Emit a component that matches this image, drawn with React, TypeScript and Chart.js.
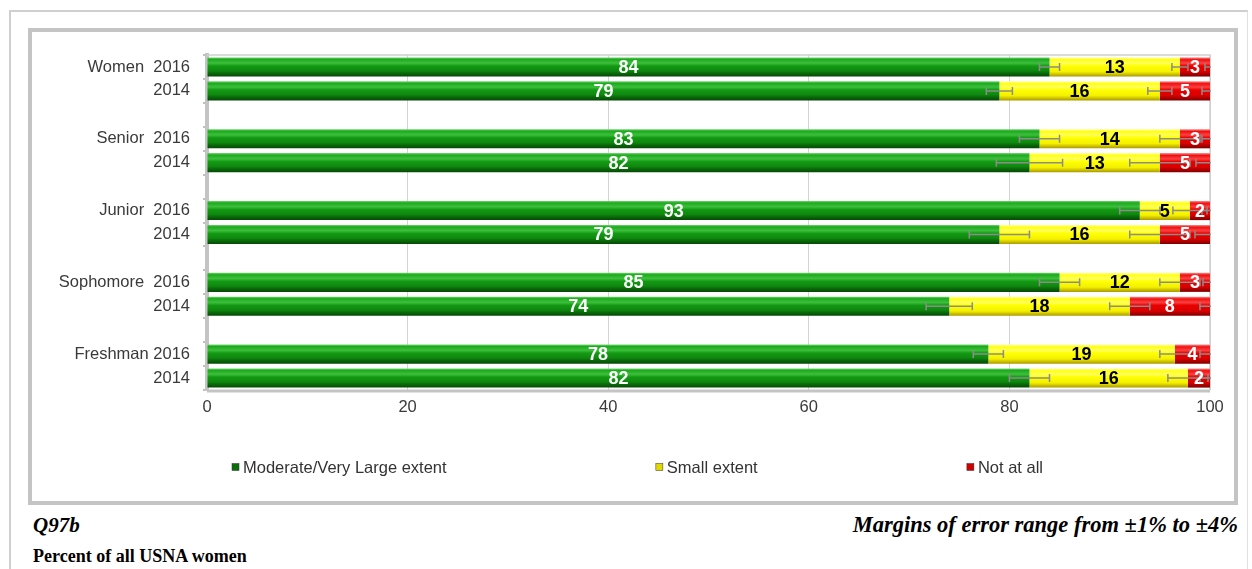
import React, { useEffect, useRef } from "react";
import { Chart, registerables } from "chart.js";

Chart.register(...registerables);

// ---------- data ----------
const categories = [
  "Women  2016", "2014", "",
  "Senior  2016", "2014", "",
  "Junior  2016", "2014", "",
  "Sophomore  2016", "2014", "",
  "Freshman 2016", "2014",
];
const moderate = [84, 79, null, 83, 82, null, 93, 79, null, 85, 74, null, 77.9, 82];
const small = [13, 16, null, 14, 13, null, 5, 16, null, 12, 18, null, 18.6, 15.8];
const notAtAll = [3, 5, null, 3, 5, null, 2, 5, null, 3, 8, null, 3.5, 2.2];

const errModerate = [1, 1.3, null, 2, 3.3, null, 2, 3, null, 2, 2.3, null, 1.5, 2];
const errSmall = [0.8, 1.2, null, 2, 3, null, 1.7, 3, null, 2, 2, null, 1.5, 2];
const errNot = [0.5, 0.8, null, 0.8, 1.4, null, 0.8, 1.5, null, 0.7, 1, null, 1, 1];

const xTicks = [0, 20, 40, 60, 80, 100];
const seriesNames = ["Moderate/Very Large extent", "Small extent", "Not at all"];

const SANS = '"Liberation Sans", Arial, sans-serif';

type Stops = [number, string][];
const greenStops: Stops = [
  [0, "#6fdc6f"], [0.1, "#1fa81f"], [0.3, "#3cc03c"], [0.45, "#149914"],
  [0.7, "#0e880e"], [0.82, "#0a6a0a"], [1, "#064806"],
];
const yellowStops: Stops = [
  [0, "#ffffa8"], [0.12, "#ffff10"], [0.3, "#ffff60"], [0.45, "#ffff00"],
  [0.75, "#f4f000"], [0.85, "#d8cc00"], [1, "#a89a00"],
];
const redStops: Stops = [
  [0, "#ff9090"], [0.12, "#ee1010"], [0.3, "#ff4040"], [0.45, "#e80000"],
  [0.75, "#d80000"], [0.85, "#b00000"], [1, "#800000"],
];

const BAR_FRACTION = 0.8;

function gradientFor(stops: Stops) {
  return (ctx: any) => {
    const chart = ctx.chart;
    const area = chart.chartArea;
    const ys = chart.scales && chart.scales.y;
    if (!area || !ys || ctx.dataIndex === undefined) return stops[3][1];
    const yc = ys.getPixelForValue(ctx.dataIndex);
    const slot = (area.bottom - area.top) / categories.length;
    const h = slot * BAR_FRACTION;
    const g = chart.ctx.createLinearGradient(0, yc - h / 2, 0, yc + h / 2);
    stops.forEach(([o, c]) => g.addColorStop(o, c));
    return g;
  };
}

const plotFramePlugin = {
  id: "plotFrame",
  beforeDatasetsDraw(chart: any) {
    const { ctx, chartArea: a } = chart;
    ctx.save();
    ctx.strokeStyle = "#cfcfcf";
    ctx.lineWidth = 1.5;
    ctx.beginPath();
    ctx.moveTo(a.left, a.top);
    ctx.lineTo(a.right, a.top);
    ctx.lineTo(a.right, a.bottom);
    ctx.stroke();
    ctx.strokeStyle = "#c4c4c4";
    ctx.lineWidth = 3;
    ctx.beginPath();
    ctx.moveTo(a.left, a.bottom + 1);
    ctx.lineTo(a.right, a.bottom + 1);
    ctx.stroke();
    ctx.restore();
  },
};

const errorBarPlugin = {
  id: "errorBars",
  afterDatasetsDraw(chart: any) {
    const { ctx, chartArea: a, scales } = chart;
    const xs = scales.x;
    const errs = [errModerate, errSmall, errNot];
    const vals = [moderate, small, notAtAll];
    ctx.save();
    ctx.beginPath();
    ctx.rect(a.left, a.top, a.right - a.left + 1, a.bottom - a.top);
    ctx.clip();
    ctx.strokeStyle = "#8c8c8c";
    ctx.lineWidth = 1.5;
    for (let i = 0; i < categories.length; i++) {
      let cum = 0;
      for (let s = 0; s < 3; s++) {
        const v = vals[s][i];
        const e = errs[s][i];
        if (v == null || e == null) continue;
        cum += v;
        const end = Math.min(cum, 100);
        const y = scales.y.getPixelForValue(i);
        const x1 = xs.getPixelForValue(end - e);
        const x2 = xs.getPixelForValue(end + e);
        ctx.beginPath();
        ctx.moveTo(x1, y);
        ctx.lineTo(x2, y);
        ctx.moveTo(x1, y - 4);
        ctx.lineTo(x1, y + 4);
        ctx.moveTo(x2, y - 4);
        ctx.lineTo(x2, y + 4);
        ctx.stroke();
      }
    }
    ctx.restore();
  },
};

const valueLabelPlugin = {
  id: "valueLabels",
  afterDatasetsDraw(chart: any) {
    const { ctx } = chart;
    ctx.save();
    ctx.font = `bold 18px ${SANS}`;
    ctx.textAlign = "center";
    ctx.textBaseline = "middle";
    chart.data.datasets.forEach((ds: any, di: number) => {
      const meta = chart.getDatasetMeta(di);
      meta.data.forEach((bar: any, i: number) => {
        const v = ds.data[i];
        if (v == null) return;
        const cx = (bar.x + bar.base) / 2;
        ctx.fillStyle = di === 1 ? "#000000" : "#ffffff";
        ctx.fillText(String(Math.round(v)), cx, bar.y + 1);
      });
    });
    ctx.restore();
  },
};

const legendPlugin = {
  id: "customLegend",
  afterDraw(chart: any) {
    const { ctx } = chart;
    const colors = ["#0a6e0a", "#e0d800", "#d00000"];
    const left = 200;
    const right = 1011;
    const y = 435;
    const sq = 7;
    const gap = 4;
    ctx.save();
    ctx.font = `16.5px ${SANS}`;
    ctx.textBaseline = "middle";
    const widths = seriesNames.map((n) => sq + gap + ctx.measureText(n).width);
    const total = widths.reduce((p, c) => p + c, 0);
    const spacing = (right - left - total) / (seriesNames.length - 1);
    let x = left;
    seriesNames.forEach((n, i) => {
      ctx.fillStyle = colors[i];
      ctx.fillRect(x, y - sq / 2, sq, sq);
      ctx.strokeStyle = "#333";
      ctx.lineWidth = 0.5;
      ctx.strokeRect(x, y - sq / 2, sq, sq);
      ctx.fillStyle = "#333333";
      ctx.fillText(n, x + sq + gap, y + 1);
      x += widths[i] + spacing;
    });
    ctx.restore();
  },
};

export default function App() {
  const ref = useRef<HTMLCanvasElement | null>(null);

  useEffect(() => {
    if (!ref.current) return;
    const chart = new Chart(ref.current, {
      type: "bar",
      data: {
        labels: categories,
        datasets: [
          { label: seriesNames[0], data: moderate as any, backgroundColor: gradientFor(greenStops) as any },
          { label: seriesNames[1], data: small as any, backgroundColor: gradientFor(yellowStops) as any },
          { label: seriesNames[2], data: notAtAll as any, backgroundColor: gradientFor(redStops) as any },
        ],
      },
      options: {
        indexAxis: "y",
        animation: false,
        responsive: false,
        maintainAspectRatio: false,
        datasets: { bar: { barPercentage: BAR_FRACTION, categoryPercentage: 1, borderWidth: 0 } },
        layout: { padding: { top: 23, right: 24, bottom: 80, left: 0 } },
        plugins: { legend: { display: false }, tooltip: { enabled: false } },
        scales: {
          x: {
            stacked: true,
            min: 0,
            max: 100,
            afterBuildTicks: (s: any) => {
              s.ticks = xTicks.map((v) => ({ value: v }));
            },
            ticks: { color: "#3a3a3a", font: { family: SANS, size: 16.5 }, padding: 8 },
            grid: { color: "#d4d4d4", drawTicks: false, lineWidth: 1 },
            border: { display: false },
            afterFit: (s: any) => {
              s.height = 30;
            },
          },
          y: {
            stacked: true,
            grid: { drawOnChartArea: false, drawTicks: true, tickLength: 4, color: "#c0c0c0", lineWidth: 2, offset: true },
            border: { display: true, color: "#c4c4c4", width: 4 },
            ticks: { color: "#3a3a3a", font: { family: SANS, size: 16.5 }, padding: 13, autoSkip: false },
            afterFit: (s: any) => {
              s.width = 175;
            },
          },
        },
      },
      plugins: [plotFramePlugin, errorBarPlugin, valueLabelPlugin, legendPlugin],
    });
    return () => chart.destroy();
  }, []);

  return (
    <div style={{ position: "absolute", left: 0, top: 0, width: 1252, height: 569, background: "#fff", overflow: "hidden" }}>
      <div
        style={{
          position: "absolute", left: 9, top: 10, width: 1239, height: 600,
          borderLeft: "2px solid #cfcfcf", borderTop: "2px solid #cfcfcf", borderRight: "1px solid #e0e0e0",
          boxSizing: "border-box",
        }}
      />
      <div
        style={{
          position: "absolute", left: 28, top: 28, width: 1210, height: 477,
          border: "4px solid #c4c4c4", boxSizing: "border-box", background: "#fff",
        }}
      />
      <canvas ref={ref} width={1202} height={468} style={{ position: "absolute", left: 32, top: 32, width: 1202, height: 468 }} />
      <div
        style={{
          position: "absolute", left: 33, top: 513, fontFamily: '"Liberation Serif", "Times New Roman", serif',
          fontWeight: "bold", fontStyle: "italic", fontSize: 21, color: "#000", lineHeight: "24px",
        }}
      >
        Q97b
      </div>
      <div
        style={{
          position: "absolute", right: 1252 - 1238, top: 513, fontFamily: '"Liberation Serif", "Times New Roman", serif',
          fontWeight: "bold", fontStyle: "italic", fontSize: 22.5, color: "#000", lineHeight: "24px", whiteSpace: "nowrap",
        }}
      >
        Margins of error range from ±1% to ±4%
      </div>
      <div
        style={{
          position: "absolute", left: 33, top: 546, fontFamily: '"Liberation Serif", "Times New Roman", serif',
          fontWeight: "bold", fontSize: 18, color: "#000", lineHeight: "20px", whiteSpace: "nowrap",
        }}
      >
        Percent of all USNA women
      </div>
    </div>
  );
}
